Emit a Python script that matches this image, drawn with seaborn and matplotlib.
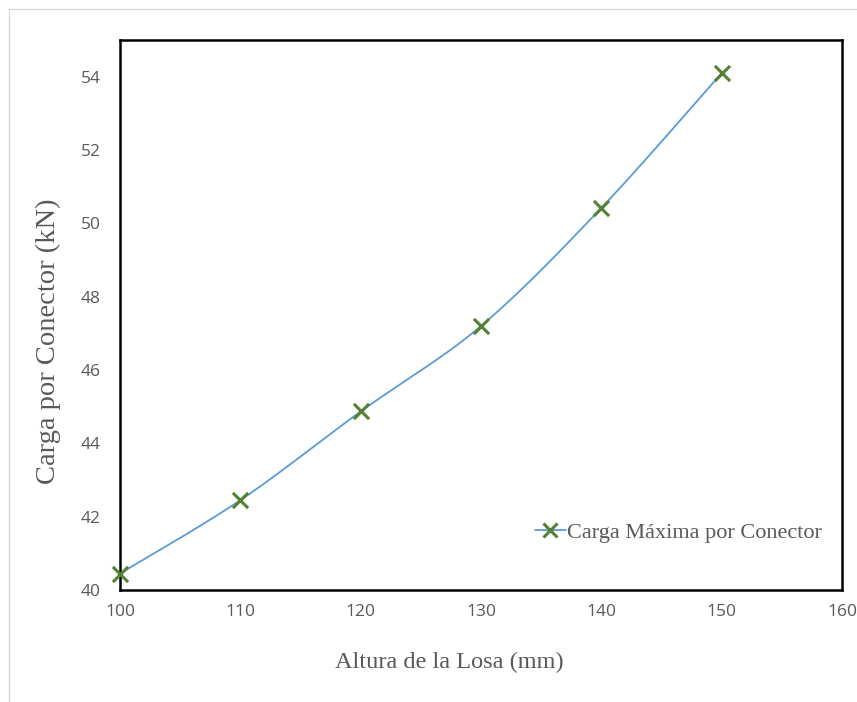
import numpy as np
import matplotlib.pyplot as plt
import pandas as pd
import seaborn as sns
from matplotlib.lines import Line2D

# data
altura = [100, 110, 120, 130, 140, 150]
carga = [40.45, 42.45, 44.87, 47.2, 50.42, 54.1]
x_ticks = [100, 110, 120, 130, 140, 150, 160]
y_ticks = [40, 42, 44, 46, 48, 50, 52, 54]
serie = 'Carga Máxima por Conector'


def excel_smooth(x, y, n=40):
    """Catmull-Rom style smoothing, similar to Excel's smoothed line"""
    x = np.asarray(x, float)
    y = np.asarray(y, float)
    px = np.concatenate([[x[0]], x, [x[-1]]])
    py = np.concatenate([[y[0]], y, [y[-1]]])
    xs, ys = [], []
    t = np.linspace(0, 1, n)
    for i in range(1, len(px) - 2):
        p0, p1, p2, p3 = (np.array([px[j], py[j]]) for j in range(i - 1, i + 3))
        c1 = p1 + (p2 - p0) / 6
        c2 = p2 - (p3 - p1) / 6
        seg = ((1 - t) ** 3)[:, None] * p1 + (3 * (1 - t) ** 2 * t)[:, None] * c1 \
            + (3 * (1 - t) * t ** 2)[:, None] * c2 + (t ** 3)[:, None] * p2
        xs.extend(seg[:, 0])
        ys.extend(seg[:, 1])
    return np.array(xs), np.array(ys)


sns.set_style('white')
plt.rcParams['font.family'] = ['Open Sans', 'DejaVu Sans']

df = pd.DataFrame({'altura': altura, 'carga': carga})
sx, sy = excel_smooth(altura, carga)
smooth = pd.DataFrame({'altura': sx, 'carga': sy})

fig = plt.figure(figsize=(8.57, 7.02), dpi=100)
ax = fig.add_axes([0.140, 0.1595, 0.8425, 0.7835])

line_c = '#5B9BD5'
mark_c = '#548235'
sns.lineplot(data=smooth, x='altura', y='carga', ax=ax, color=line_c, lw=1.3,
             sort=False, estimator=None)
sns.scatterplot(data=df, x='altura', y='carga', ax=ax, marker='x', s=120,
                color=mark_c, linewidth=2.2, zorder=5, clip_on=False)

ax.set_xlim(100, 160)
ax.set_ylim(40, 55)
ax.set_xticks(x_ticks)
ax.set_yticks(y_ticks)
ax.tick_params(direction='in', length=6, width=1.6, color='black',
               labelcolor='#595959', labelsize=12.5)
ax.tick_params(axis='x', pad=10)
ax.tick_params(axis='y', pad=14)
for s in ax.spines.values():
    s.set_visible(True)
    s.set_color('black')
    s.set_linewidth(1.8)

serif = ['Liberation Serif', 'DejaVu Serif']
ax.set_xlabel('Altura de la Losa (mm)', family=serif, fontsize=17.5,
              color='#595959')
ax.set_ylabel('Carga por Conector (kN)', family=serif, fontsize=20.5,
              color='#595959')
ax.xaxis.set_label_coords(0.4557, -0.112)
ax.yaxis.set_label_coords(-0.081, 0.453)

handle = Line2D([0], [0], color=line_c, lw=1.3, marker='x', markersize=10,
                markeredgewidth=2.2, markeredgecolor=mark_c)
leg = ax.legend([handle], [serie], loc='lower right', bbox_to_anchor=(1.0, 0.05),
                frameon=False, handlelength=1.4, handletextpad=0.05,
                prop={'family': serif, 'size': 16})
for t in leg.get_texts():
    t.set_color('#595959')

# light outer border of the chart area
fig.add_artist(Line2D([9 / 857, 9 / 857], [0, 1 - 9 / 702], color='#D9D9D9', lw=1))
fig.add_artist(Line2D([9 / 857, 1], [1 - 9 / 702, 1 - 9 / 702], color='#D9D9D9', lw=1))

fig.savefig('out.png', dpi=100)
plt.close(fig)
